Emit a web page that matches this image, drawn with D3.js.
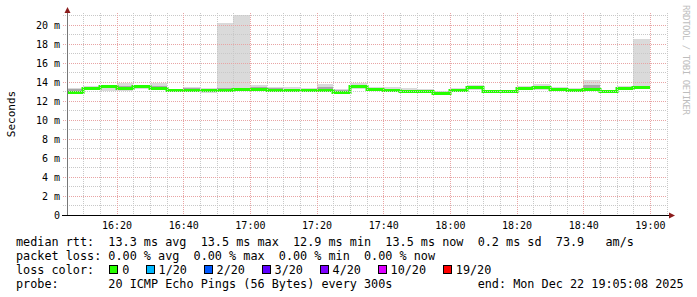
<!DOCTYPE html>
<html>
<head>
<meta charset="utf-8">
<script src="https://cdn.jsdelivr.net/npm/d3@7"></script>
<style>
  body { margin: 0; background: #fff; }
  text { font-family: "DejaVu Sans Mono", monospace; }
</style>
</head>
<body>
<div id="chart"></div>
<script>
// 5 minute steps, start of each interval
const stepTimes = ['16:05', '16:10', '16:15', '16:20', '16:25', '16:30', '16:35', '16:40', '16:45', '16:50',
    '16:55', '17:00', '17:05', '17:10', '17:15', '17:20', '17:25', '17:30', '17:35', '17:40',
    '17:45', '17:50', '17:55', '18:00', '18:05', '18:10', '18:15', '18:20', '18:25', '18:30',
    '18:35', '18:40', '18:45', '18:50', '18:55']

// median rtt in ms
const median = [12.98, 13.39, 13.53, 13.33, 13.53, 13.39, 13.18, 13.18, 13.15, 13.16,
    13.26, 13.26, 13.2, 13.16, 13.16, 13.16, 12.98, 13.55, 13.25, 13.16,
    13.09, 13.02, 12.82, 13.14, 13.42, 13.05, 13.05, 13.37, 13.47, 13.26,
    13.18, 13.3, 13.02, 13.33, 13.45]

// smoke: min / max of the 20 pings
const smokeMin = [12.85, 13.2, 13.0, 13.1, 13.3, 13.2, 12.9, 12.9, 12.85, 12.95,
    13.0, 13.0, 13.0, 13.0, 13.0, 12.95, 12.85, 13.3, 13.05, 13.0,
    12.9, 12.8, 12.7, 12.95, 13.15, 12.9, 12.9, 13.2, 13.2, 13.05,
    12.9, 13.1, 12.95, 13.2, 13.3]
const smokeMax = [13.35, 13.6, 13.6, 13.9, 13.6, 13.85, 13.3, 13.5, 13.4, 20.2,
    21.05, 13.7, 13.5, 13.45, 13.4, 13.8, 13.3, 13.85, 13.5, 13.45,
    13.35, 13.3, 13.1, 13.35, 13.65, 13.15, 13.2, 13.6, 13.75, 13.5,
    13.4, 14.2, 13.15, 13.55, 18.55]
// denser part of the smoke
const innerLo = [12.9, 13.3, 13.4, 13.22, 13.42, 13.3, 13.05, 13.0, 12.98, 13.05,
    13.15, 13.15, 13.1, 13.08, 13.08, 13.05, 12.92, 13.45, 13.15, 13.08,
    12.98, 12.9, 12.78, 13.05, 13.3, 12.98, 12.98, 13.28, 13.35, 13.15,
    13.05, 13.2, 12.98, 13.25, 13.35]
const innerHi = [13.25, 13.5, 13.58, 13.6, 13.58, 13.55, 13.25, 13.35, 13.3, 13.35,
    13.4, 13.45, 13.35, 13.3, 13.28, 13.45, 13.15, 13.65, 13.38, 13.28,
    13.2, 13.15, 12.95, 13.3, 13.55, 13.1, 13.12, 13.48, 13.6, 13.4,
    13.3, 13.7, 13.1, 13.45, 13.6]

const yTicks = [0, 2, 4, 6, 8, 10, 12, 14, 16, 18, 20]

const legendLines = [
    'median rtt:  13.3 ms avg  13.5 ms max  12.9 ms min  13.5 ms now  0.2 ms sd  73.9   am/s',
    'packet loss: 0.00 % avg  0.00 % max  0.00 % min  0.00 % now',
    'loss color:',
    'probe:       20 ICMP Echo Pings (56 Bytes) every 300s            end: Mon Dec 22 19:05:08 2025'
]
const lossLabels = ['0', '1/20', '2/20', '3/20', '4/20', '10/20', '19/20']
const lossColors = ['#26ff00', '#00b8ff', '#0059ff', '#5e00ff', '#7e00ff', '#dd00ff', '#ff0000']

const width = 697, height = 297
const plot = { left: 67, right: 667, top: 13, bottom: 215 }
const parse = d3.utcParse('%Y-%m-%d %H:%M:%S')
const day = '2025-12-22 '

const svg = d3.select('#chart').append('svg')
    .attr('width', width)
    .attr('height', height)
svg.append('rect').attr('width', width).attr('height', height).attr('fill', '#fff')

const x = d3.scaleUtc()
    .domain([parse(day + '16:05:08'), parse(day + '19:05:08')])
    .range([plot.left, plot.right])
const y = d3.scaleLinear()
    .domain([0, 21.26])
    .range([plot.bottom, plot.top])

const data = stepTimes.map((t, i) => ({
    t0: parse(day + t + ':00'),
    t1: d3.utcMinute.offset(parse(day + t + ':00'), 5),
    med: median[i], lo: smokeMin[i], hi: smokeMax[i], ilo: innerLo[i], ihi: innerHi[i]
}))

svg.append('clipPath').attr('id', 'clip')
    .append('rect')
    .attr('x', plot.left).attr('y', plot.top)
    .attr('width', plot.right - plot.left).attr('height', plot.bottom - plot.top)

const g = svg.append('g').attr('clip-path', 'url(#clip)')

// smoke
g.selectAll('.smoke').data(data).join('rect')
    .attr('class', 'smoke')
    .attr('x', d => Math.round(x(d.t0)))
    .attr('width', d => Math.round(x(d.t1)) - Math.round(x(d.t0)))
    .attr('y', d => Math.round(y(d.hi)))
    .attr('height', d => Math.round(y(d.lo)) - Math.round(y(d.hi)))
    .attr('fill', '#dadada')
    .attr('shape-rendering', 'crispEdges')
g.selectAll('.inner').data(data).join('rect')
    .attr('class', 'inner')
    .attr('x', d => Math.round(x(d.t0)))
    .attr('width', d => Math.round(x(d.t1)) - Math.round(x(d.t0)))
    .attr('y', d => Math.round(y(d.ihi)))
    .attr('height', d => Math.round(y(d.ilo)) - Math.round(y(d.ihi)))
    .attr('fill', '#a8a8a8')
    .attr('shape-rendering', 'crispEdges')

// grid
const grid = svg.append('g').attr('shape-rendering', 'crispEdges')
const minorY = d3.range(1, 22).filter(v => v % 2 !== 0)
grid.selectAll('.hmin').data(minorY).join('line')
    .attr('x1', plot.left - 4).attr('x2', plot.right)
    .attr('y1', d => Math.round(y(d)) + 0.5).attr('y2', d => Math.round(y(d)) + 0.5)
    .attr('stroke', '#c8c8c8').attr('stroke-dasharray', '1,1')
const minorX = d3.utcMinute.every(5).range(x.domain()[0], x.domain()[1])
    .filter(d => d.getUTCMinutes() % 20 !== 0)
grid.selectAll('.vmin').data(minorX).join('line')
    .attr('x1', d => Math.round(x(d)) + 0.5).attr('x2', d => Math.round(x(d)) + 0.5)
    .attr('y1', plot.top).attr('y2', plot.bottom + 2)
    .attr('stroke', '#c8c8c8').attr('stroke-dasharray', '1,1')
grid.selectAll('.hmaj').data(yTicks.slice(1)).join('line')
    .attr('x1', plot.left - 4).attr('x2', plot.right)
    .attr('y1', d => Math.round(y(d)) + 0.5).attr('y2', d => Math.round(y(d)) + 0.5)
    .attr('stroke', '#e8a4a4').attr('stroke-dasharray', '1,1')
const majorX = x.ticks(d3.utcMinute.every(20))
grid.selectAll('.vmaj').data(majorX).join('line')
    .attr('x1', d => Math.round(x(d)) + 0.5).attr('x2', d => Math.round(x(d)) + 0.5)
    .attr('y1', plot.top).attr('y2', plot.bottom + 2)
    .attr('stroke', '#e8a4a4').attr('stroke-dasharray', '1,1')

// median line
const pts = data.map(d => [d.t0, d.med])
pts.push([data[data.length - 1].t1, data[data.length - 1].med])
g.append('path')
    .datum(pts)
    .attr('fill', 'none')
    .attr('stroke', lossColors[0])
    .attr('stroke-width', 3)
    .attr('d', d3.line()
        .x(d => Math.round(x(d[0])))
        .y(d => Math.round(y(d[1])) + 0.5)
        .curve(d3.curveStepAfter))

// axes
const yAxis = svg.append('g')
    .attr('transform', 'translate(' + plot.left + ',0)')
    .call(d3.axisLeft(y).tickValues(yTicks).tickSize(0).tickPadding(7)
        .tickFormat(d => d === 0 ? '0' : d + ' m'))
yAxis.select('.domain').remove()
yAxis.selectAll('text').attr('font-family', 'DejaVu Sans Mono').attr('font-size', 10).attr('fill', '#000')

const xAxis = svg.append('g')
    .attr('transform', 'translate(0,' + plot.bottom + ')')
    .call(d3.axisBottom(x).ticks(d3.utcMinute.every(20)).tickFormat(d3.utcFormat('%H:%M'))
        .tickSize(0).tickPadding(7))
xAxis.select('.domain').remove()
xAxis.selectAll('text').attr('font-family', 'DejaVu Sans Mono').attr('font-size', 10).attr('fill', '#000')

svg.append('line')
    .attr('x1', plot.left + 0.5).attr('x2', plot.left + 0.5)
    .attr('y1', plot.bottom).attr('y2', 10)
    .attr('stroke', '#777').attr('shape-rendering', 'crispEdges')
svg.append('line')
    .attr('x1', plot.left - 5).attr('x2', 671)
    .attr('y1', plot.bottom + 0.5).attr('y2', plot.bottom + 0.5)
    .attr('stroke', '#000').attr('shape-rendering', 'crispEdges')
svg.append('path')
    .attr('d', 'M' + (plot.left - 2.5) + ',13 L' + (plot.left + 0.5) + ',7 L' + (plot.left + 3.5) + ',13 Z')
    .attr('fill', '#8b1c1c')
svg.append('path')
    .attr('d', 'M669,' + (plot.bottom - 2.5) + ' L675,' + (plot.bottom + 0.5) + ' L669,' + (plot.bottom + 3.5) + ' Z')
    .attr('fill', '#8b1c1c')

// unit label
svg.append('text')
    .attr('transform', 'translate(15,114) rotate(-90)')
    .attr('text-anchor', 'middle')
    .attr('font-size', 11)
    .attr('fill', '#000')
    .text('Seconds')

// watermark
svg.append('text')
    .attr('transform', 'translate(683,5) rotate(90)')
    .attr('font-size', 9)
    .attr('textLength', 110)
    .attr('lengthAdjust', 'spacing')
    .attr('fill', '#bdbdbd')
    .text('RRDTOOL / TOBI OETIKER')

// legend
const legend = svg.append('g')
legend.selectAll('text').data(legendLines).join('text')
    .attr('x', 16)
    .attr('y', (d, i) => 246 + i * 14)
    .attr('font-size', 11.8)
    .attr('fill', '#000')
    .style('white-space', 'pre')
    .text(d => d)

let lx = 123.3
const lossItems = lossLabels.map((l, i) => {
    const item = { label: l, color: lossColors[i], x: lx }
    lx += (l.length + 4) * 7.25
    return item
})
legend.selectAll('.lbox').data(lossItems).join('rect')
    .attr('class', 'lbox')
    .attr('x', d => Math.round(d.x - 14) + 0.5)
    .attr('y', 265.5)
    .attr('width', 8)
    .attr('height', 8)
    .attr('fill', d => d.color)
    .attr('stroke', '#000')
legend.selectAll('.llab').data(lossItems).join('text')
    .attr('class', 'llab')
    .attr('x', d => d.x - 1)
    .attr('y', 274)
    .attr('font-size', 11.8)
    .attr('fill', '#000')
    .text(d => d.label)
</script>
</body>
</html>
